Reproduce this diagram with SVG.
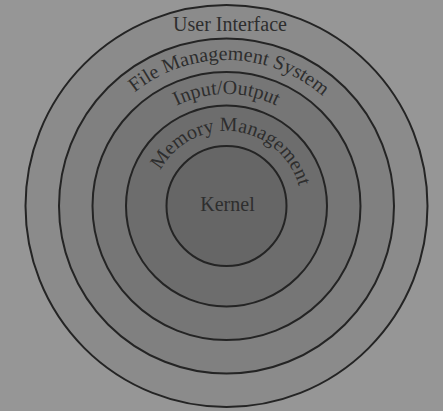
<svg xmlns="http://www.w3.org/2000/svg" width="443" height="411" viewBox="0 0 443 411">
  <style>
    .ring { stroke: #242424; stroke-width: 2; }
    .lbl { font-family: "Liberation Serif", "Times New Roman", serif; font-size: 20px; fill: #2e2e2e; }
  </style>
  <defs>
    <path id="arcFMS" d="M 80.5,206 A 146 146 0 0 1 372.5,206"/>
    <path id="arcIO" d="M 114.5,206 A 112 112 0 0 1 338.5,206"/>
    <path id="arcMM" d="M 151.5,206 A 75 75 0 0 1 301.5,206"/>
  </defs>
  <rect x="0" y="0" width="443" height="411" fill="#969696"/>
  <g id="user-interface">
    <circle class="ring" cx="226.5" cy="206" r="201" fill="#8b8b8b"/>
    <text class="lbl" x="230" y="31" text-anchor="middle">User Interface</text>
  </g>
  <g id="file-management-system">
    <circle class="ring" cx="226.5" cy="206" r="167.5" fill="#808080"/>
    <text class="lbl"><textPath href="#arcFMS" startOffset="50.6%" text-anchor="middle">File Management System</textPath></text>
  </g>
  <g id="input-output">
    <circle class="ring" cx="226.5" cy="206" r="134" fill="#767676"/>
    <text class="lbl"><textPath href="#arcIO" startOffset="50%" text-anchor="middle">Input/Output</textPath></text>
  </g>
  <g id="memory-management">
    <circle class="ring" cx="226.5" cy="206" r="100.5" fill="#6d6d6d"/>
    <text class="lbl"><textPath href="#arcMM" startOffset="53.6%" text-anchor="middle">Memory Management</textPath></text>
  </g>
  <g id="kernel">
    <circle class="ring" cx="226.5" cy="206" r="60" fill="#666666"/>
    <text class="lbl" x="227.5" y="211" text-anchor="middle">Kernel</text>
  </g>
</svg>
